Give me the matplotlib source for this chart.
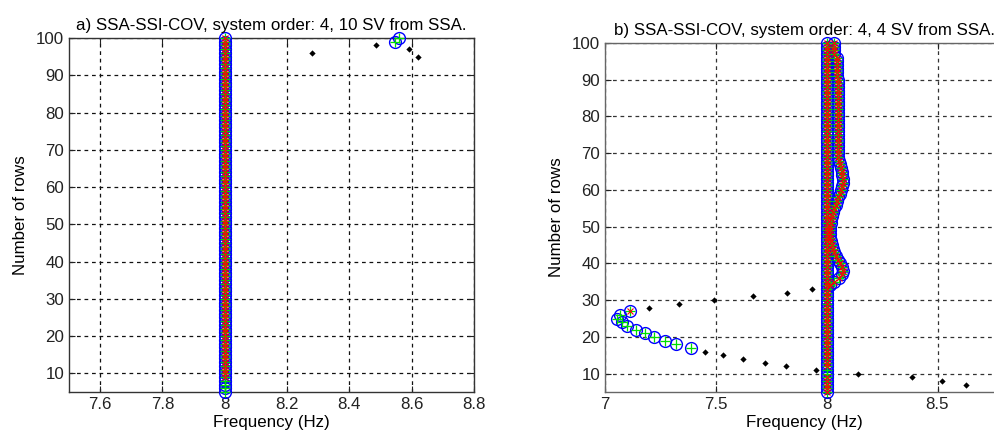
import matplotlib
matplotlib.use("Agg")
import matplotlib.pyplot as plt

plt.rcParams['font.family'] = ['Liberation Sans', 'DejaVu Sans']

# ---------------- Panel a) data ----------------
rows_a_col = list(range(5, 101))
freq_a_col = [8.0] * len(rows_a_col)
rows_a_red = list(range(9, 101))           # rows where all criteria are met
freq_a_red = [8.0] * len(rows_a_red)
# spurious poles near the top
rows_a_stab = [99, 100]
freq_a_stab = [8.545, 8.558]
rows_a_new = [96, 98, 97, 95]
freq_a_new = [8.28, 8.486, 8.59, 8.619]

# ---------------- Panel b) data ----------------
rows_b_col = list(range(5, 101))
freq_b_col = [8.0] * len(rows_b_col)
rows_b_red = [r for r in range(5, 101) if r not in (10, 11)]
freq_b_red = [8.0] * len(rows_b_red)

# second (wandering) branch above row 34
rows_b_br = list(range(34, 101))
freq_b_br = [8.015, 8.035, 8.055, 8.07, 8.075, 8.07, 8.06, 8.05, 8.04, 8.035,
             8.03, 8.025, 8.02, 8.015, 8.015, 8.015, 8.015, 8.02, 8.02, 8.025,
             8.03, 8.035, 8.04, 8.045, 8.05, 8.06, 8.065, 8.07, 8.072, 8.072,
             8.07, 8.068, 8.064, 8.06, 8.055, 8.05, 8.05, 8.05, 8.05, 8.05,
             8.05, 8.05, 8.05, 8.05, 8.05, 8.05, 8.05, 8.05, 8.05, 8.05,
             8.05, 8.05, 8.05, 8.05, 8.05, 8.05, 8.05, 8.045, 8.045, 8.045,
             8.045, 8.045, 8.045, 8.035, 8.035, 8.035, 8.035]

# curling branch at low frequency (stable in frequency & damping)
rows_b_curl = [17, 18, 19, 20, 21, 22, 23, 24, 25, 26, 27]
freq_b_curl = [7.386, 7.32, 7.27, 7.22, 7.18, 7.14, 7.098, 7.075, 7.053, 7.068, 7.113]
rows_b_curl_red = [27]
freq_b_curl_red = [7.113]

# new (unstable) poles
rows_b_new = [7, 8, 9, 10, 11, 12, 13, 14, 15, 16, 28, 29, 30, 31, 32, 33]
freq_b_new = [8.63, 8.52, 8.385, 8.14, 7.95, 7.818, 7.724, 7.623, 7.533, 7.45,
              7.2, 7.333, 7.49, 7.668, 7.82, 7.934]

FS = 12.2
W, H = 994, 436
fig = plt.figure(figsize=(W / 100, H / 100), dpi=100)
fig.patch.set_facecolor('white')

ax1 = fig.add_axes([69 / W, 1 - 392 / H, (474 - 69) / W, (392 - 38) / H])
ax2 = fig.add_axes([605 / W, 1 - 392 / H, (1004 - 605) / W, (392 - 43) / H])


def stab(ax, f_circ, r_circ, f_plus, r_plus, f_x, r_x):
    ax.plot(f_circ, r_circ, 'o', ms=8.5, mfc='none', mec='blue', mew=1.0,
            zorder=3, clip_on=False)
    ax.plot(f_plus, r_plus, '+', ms=7.5, mec='#00e000', mew=0.9, zorder=4,
            clip_on=False)
    ax.plot(f_x, r_x, 'x', ms=4.5, mec='red', mew=0.8, zorder=5, clip_on=False)


def style(ax, xlim, xticks, grid_col, spine_col):
    ax.set_xlim(*xlim)
    ax.set_ylim(5, 100)
    ax.set_xticks(xticks)
    ax.set_yticks(range(10, 101, 10))
    ax.grid(True, color=grid_col, linestyle=(0, (3, 3)), linewidth=0.9)
    ax.set_axisbelow(True)
    ax.tick_params(direction='in', length=4, labelsize=FS, colors='#222222',
                   top=True, right=True)
    for s in ax.spines.values():
        s.set_color(spine_col)
        s.set_linewidth(1.0)
    ax.set_xlabel('Frequency (Hz)', fontsize=FS, labelpad=2)
    ax.set_ylabel('Number of rows', fontsize=FS, labelpad=6)


# panel a
ax1.plot(freq_a_new, rows_a_new, 'D', ms=3.2, color='black', mew=0, zorder=3)
stab(ax1, freq_a_col + freq_a_stab, rows_a_col + rows_a_stab,
     freq_a_col + freq_a_stab, rows_a_col + rows_a_stab,
     freq_a_red, rows_a_red)
style(ax1, (7.5, 8.8), [7.6, 7.8, 8.0, 8.2, 8.4, 8.6, 8.8], '#111111', '#333333')
ax1.set_xticklabels(['7.6', '7.8', '8', '8.2', '8.4', '8.6', '8.8'])
ax1.set_title('a) SSA-SSI-COV, system order: 4, 10 SV from SSA.', fontsize=FS, pad=6)

# panel b
ax2.plot(freq_b_new, rows_b_new, 'D', ms=3.2, color='black', mew=0, zorder=3)
stab(ax2, freq_b_col + freq_b_br + freq_b_curl, rows_b_col + rows_b_br + rows_b_curl,
     freq_b_col + freq_b_br + freq_b_curl, rows_b_col + rows_b_br + rows_b_curl,
     freq_b_red + freq_b_br + freq_b_curl_red, rows_b_red + rows_b_br + rows_b_curl_red)
style(ax2, (7.0, 8.8), [7.0, 7.5, 8.0, 8.5], '#333333', '#666666')
ax2.set_xticklabels(['7', '7.5', '8', '8.5'])
ax2.set_title('b) SSA-SSI-COV, system order: 4, 4 SV from SSA.', fontsize=FS, pad=6)

fig.savefig('out.png', dpi=100)
